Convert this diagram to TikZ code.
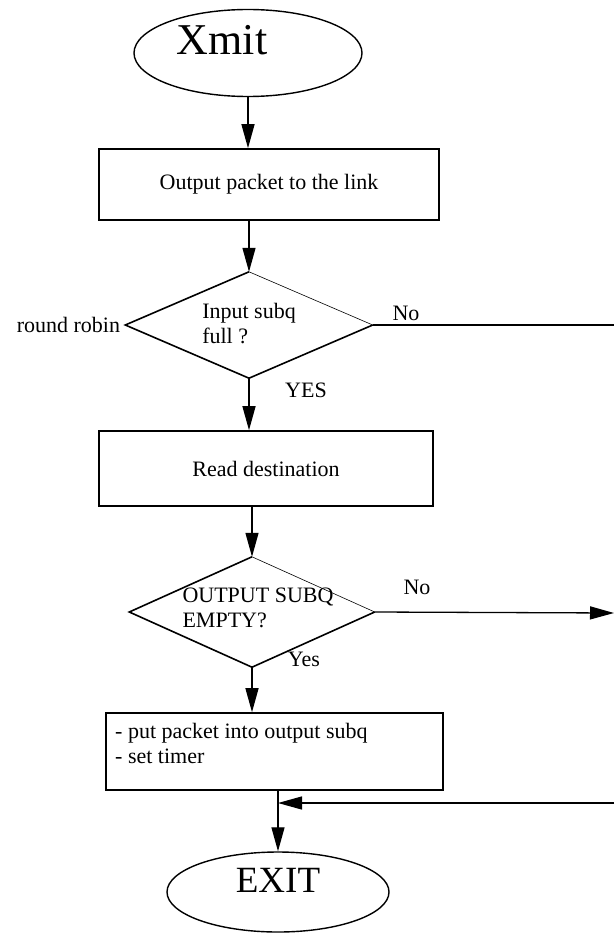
\documentclass[tikz,border=0pt]{standalone}
\usepackage{fontspec}
\setmainfont{Liberation Serif}
\usetikzlibrary{shapes,arrows.meta,positioning,calc}

\tikzset{
  flowbox/.style={draw, rectangle, line width=1.6pt, inner sep=0pt,
    minimum width=340pt, font=\fontsize{22}{25}\selectfont},
  termnode/.style={draw, ellipse, line width=1.4pt, inner sep=0pt},
  choice/.style={diamond, inner sep=0pt},
  flowtext/.style={inner sep=0pt, align=left, font=\fontsize{22}{25}\selectfont},
  flowline/.style={line width=1.3pt},
  flowarrow/.style={flowline, -{Triangle[length=24pt,width=13pt]}},
  thickedge/.style={line width=1.6pt},
  thinedge/.style={line width=0.6pt}
}

\begin{document}
\begin{tikzpicture}[x=1pt,y=-1pt]
\useasboundingbox (0,0) rectangle (614,934);

% terminals
\node[termnode, minimum width=228pt, minimum height=87pt,
  font=\fontsize{44}{44}\selectfont, text height=30pt, text depth=26pt] (xmit) at (248,53) {Xmit\hspace*{52pt}};
\node[termnode, minimum width=222pt, minimum height=80pt,
  font=\fontsize{37}{37}\selectfont, text height=25pt, text depth=25pt] (exit) at (278,892) {EXIT};

% boxes
\node[flowbox, minimum height=71pt] (output) at (269,184.5) {Output packet to the link};
\node[flowbox, minimum width=334pt, minimum height=75pt] (dest) at (266,468.5) {Read destination};
\node[flowbox, minimum width=337pt, minimum height=77pt] (put) at (274.5,751.5) {};
\node[flowtext, anchor=west] (puttext) at (115,743) {- put packet into output subq\\- set timer};

% decisions
\node[choice, minimum width=247pt, minimum height=106pt] (full) at (249,325) {};
\node[flowtext] (fulltext) at (249,324) {Input subq\\full ?};
\node[choice, minimum width=245pt, minimum height=110pt] (empty) at (252,612) {};
\node[flowtext] (emptytext) at (258,608) {OUTPUT SUBQ\\EMPTY?};

\draw[thickedge] (full.north) -- (full.west) -- (full.south) -- (full.east);
\draw[thinedge] (full.east) -- (full.north);
\draw[thickedge] (empty.north) -- (empty.west) -- (empty.south) -- (empty.east);
\draw[thinedge] (empty.east) -- (empty.north);

% labels
\node[flowtext, left=5pt of full.west] (robin) {round robin};
\node[flowtext] (nofulltext) at (406,313) {No};
\node[flowtext] (yesfull) at (306,390) {YES};
\node[flowtext] (noemptytext) at (417,587) {No};
\node[flowtext] (yesempty) at (304,659) {Yes};

% loose ends at the page edge
\coordinate (nofull) at (614,325);
\coordinate (noempty) at (614,613);
\coordinate (back) at (614,803);
\coordinate (join) at (exit.north |- back);

% connectors
\draw[flowarrow] (xmit.south) -- (xmit.south |- output.north);
\draw[flowarrow] (output.south -| full.north) -- (full.north);
\draw[flowarrow] (full.south) -- (full.south |- dest.north);
\draw[flowarrow] (dest.south -| empty.north) -- (empty.north);
\draw[flowarrow] (empty.south) -- (empty.south |- put.north);
\draw[flowline] (full.east) -- (nofull);
\draw[flowarrow] (empty.east) -- (noempty);
\draw[flowarrow] (back) -- (join);
\draw[flowarrow] (put.south -| exit.north) -- (exit.north);
\end{tikzpicture}
\end{document}
